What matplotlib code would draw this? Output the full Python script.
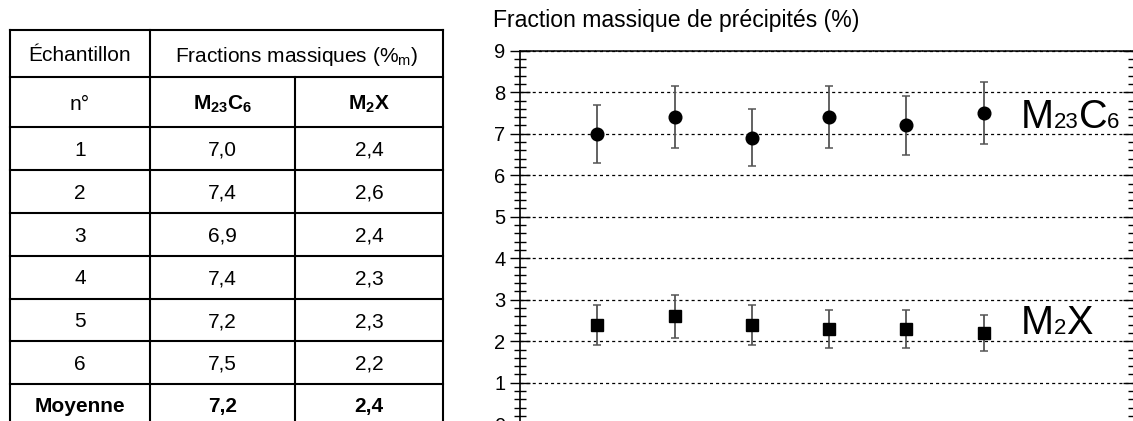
import matplotlib
matplotlib.use('Agg')
import matplotlib.pyplot as plt
from matplotlib.lines import Line2D
from matplotlib.offsetbox import TextArea, HPacker, AnnotationBbox
from matplotlib.ticker import MultipleLocator

# ---------------- data ----------------
samples = ["1", "2", "3", "4", "5", "6"]
m23c6 = [7.0, 7.4, 6.9, 7.4, 7.2, 7.5]
m2x = [2.4, 2.6, 2.4, 2.3, 2.3, 2.2]
m23c6_err = [0.70, 0.74, 0.69, 0.74, 0.72, 0.75]
m2x_err = [0.48, 0.52, 0.48, 0.46, 0.46, 0.44]
mean_label = "Moyenne"
mean_m23c6 = 7.2
mean_m2x = 2.4
header_sample = "Échantillon"
header_frac = r"Fractions massiques (%$_\mathrm{m}$)"
header_no = "n°"
col_m23c6 = r"$\mathbf{M_{23}C_6}$"
col_m2x = r"$\mathbf{M_2X}$"
chart_title = "Fraction massique de précipités (%)"
yticks = [0, 1, 2, 3, 4, 5, 6, 7, 8, 9]

plt.rcParams['font.family'] = ['Liberation Sans', 'DejaVu Sans']
plt.rcParams['mathtext.fontset'] = 'custom'
plt.rcParams['mathtext.rm'] = 'Liberation Sans'
plt.rcParams['mathtext.bf'] = 'Liberation Sans:bold'
plt.rcParams['mathtext.it'] = 'Liberation Sans:italic'
plt.rcParams['lines.scale_dashes'] = False

W, H = 1133, 421
fig = plt.figure(figsize=(W / 100, H / 100), dpi=100)
fig.patch.set_facecolor('white')

def fmt(v):
    return f"{v:.1f}".replace('.', ',')

# ---------------- table ----------------
tab = fig.add_axes([0, 0, 1, 1])
tab.set_xlim(0, W)
tab.set_ylim(H, 0)
tab.axis('off')

xs = [10, 150, 295, 443]
ys = [29.5, 77, 127, 170, 212.5, 255.5, 298.5, 341, 383.5, 426]
lw_t = 1.5
for y in ys:
    tab.add_line(Line2D([xs[0], xs[3]], [y, y], color='black', lw=lw_t))
for x in (xs[0], xs[1], xs[3]):
    tab.add_line(Line2D([x, x], [ys[0], ys[-1]], color='black', lw=lw_t))
tab.add_line(Line2D([xs[2], xs[2]], [ys[1], ys[-1]], color='black', lw=lw_t))

fs_t = 15
cx = [(xs[0] + xs[1]) / 2, (xs[1] + xs[2]) / 2, (xs[2] + xs[3]) / 2]
def cy(i):
    return (ys[i] + ys[i + 1]) / 2

tab.text(cx[0], cy(0), header_sample, ha='center', va='center_baseline', fontsize=fs_t)
tab.text((xs[1] + xs[3]) / 2, cy(0), header_frac, ha='center', va='center_baseline', fontsize=fs_t)
tab.text(cx[0], cy(1), header_no, ha='center', va='center_baseline', fontsize=fs_t)
tab.text(cx[1], cy(1), col_m23c6, ha='center', va='center_baseline', fontsize=fs_t)
tab.text(cx[2], cy(1), col_m2x, ha='center', va='center_baseline', fontsize=fs_t)
for i, (s, a, b) in enumerate(zip(samples, m23c6, m2x)):
    r = i + 2
    tab.text(cx[0], cy(r), s, ha='center', va='center_baseline', fontsize=fs_t)
    tab.text(cx[1], cy(r), fmt(a), ha='center', va='center_baseline', fontsize=fs_t)
    tab.text(cx[2], cy(r), fmt(b), ha='center', va='center_baseline', fontsize=fs_t)
r = len(samples) + 2
tab.text(cx[0], cy(r), mean_label, ha='center', va='center_baseline', fontsize=fs_t, fontweight='bold')
tab.text(cx[1], cy(r), fmt(mean_m23c6), ha='center', va='center_baseline', fontsize=fs_t, fontweight='bold')
tab.text(cx[2], cy(r), fmt(mean_m2x), ha='center', va='center_baseline', fontsize=fs_t, fontweight='bold')

# ---------------- chart ----------------
left_px, right_px = 520, 1134.5
top_px, bot_px = 50.7, 424.2
ax = fig.add_axes([left_px / W, (H - bot_px) / H, (right_px - left_px) / W, (bot_px - top_px) / H])
ax.patch.set_facecolor('none')
ax.set_xlim(0, 7.95)
ax.set_ylim(0, 9)
xpos = list(range(1, len(samples) + 1))

ax.set_yticks(yticks)
ax.yaxis.set_minor_locator(MultipleLocator(0.2))
ax.set_xticks([])
ax.tick_params(axis='y', which='major', direction='inout', length=15, width=1, labelsize=14.5, pad=3, colors='black')
ax.tick_params(axis='y', which='minor', direction='inout', length=8, width=1)
for s in ('bottom', 'right'):
    ax.spines[s].set_visible(False)
ax.spines['left'].set_linewidth(1.2)
ax.spines['top'].set_linewidth(1.1)
ax.spines['top'].set_linestyle((0, (4, 1)))
ax.yaxis.grid(True, which='major', color='black', lw=0.9, linestyle=(0, (2.2, 2.2)))
ax.set_axisbelow(True)

ax2 = ax.twinx()
ax2.set_ylim(0, 9)
ax2.set_yticks(yticks)
ax2.yaxis.set_minor_locator(MultipleLocator(0.2))
ax2.tick_params(axis='y', which='major', direction='in', length=9, width=1, labelright=False)
ax2.tick_params(axis='y', which='minor', direction='in', length=5, width=1)
for s in ('bottom', 'left', 'top'):
    ax2.spines[s].set_visible(False)

ax.errorbar(xpos, m23c6, yerr=m23c6_err, fmt='o', color='black', ms=9.1,
            ecolor='#555555', elinewidth=1.3, capsize=3.2, capthick=1.1, zorder=3)
ax.errorbar(xpos, m2x, yerr=m2x_err, fmt='s', color='black', ms=8.6,
            ecolor='#555555', elinewidth=1.3, capsize=3.2, capthick=1.1, zorder=3)

def packed_label(parts, xy):
    areas = [TextArea(t, textprops=dict(fontsize=f, color='black')) for t, f in parts]
    box = HPacker(children=areas, align='baseline', pad=0, sep=0)
    ab = AnnotationBbox(box, xy, xycoords='data', box_alignment=(0, 0), frameon=False, pad=0)
    ax.add_artist(ab)

packed_label([("M", 28.5), ("23", 16), ("C", 28.5), ("6", 16)], (6.48, 6.95))
packed_label([("M", 28.5), ("2", 16), ("X", 28.5)], (6.48, 1.99))

fig.text(493 / W, 1 - 27 / H, chart_title, fontsize=16.6, ha='left', va='baseline')

fig.savefig('out.png', dpi=100)
